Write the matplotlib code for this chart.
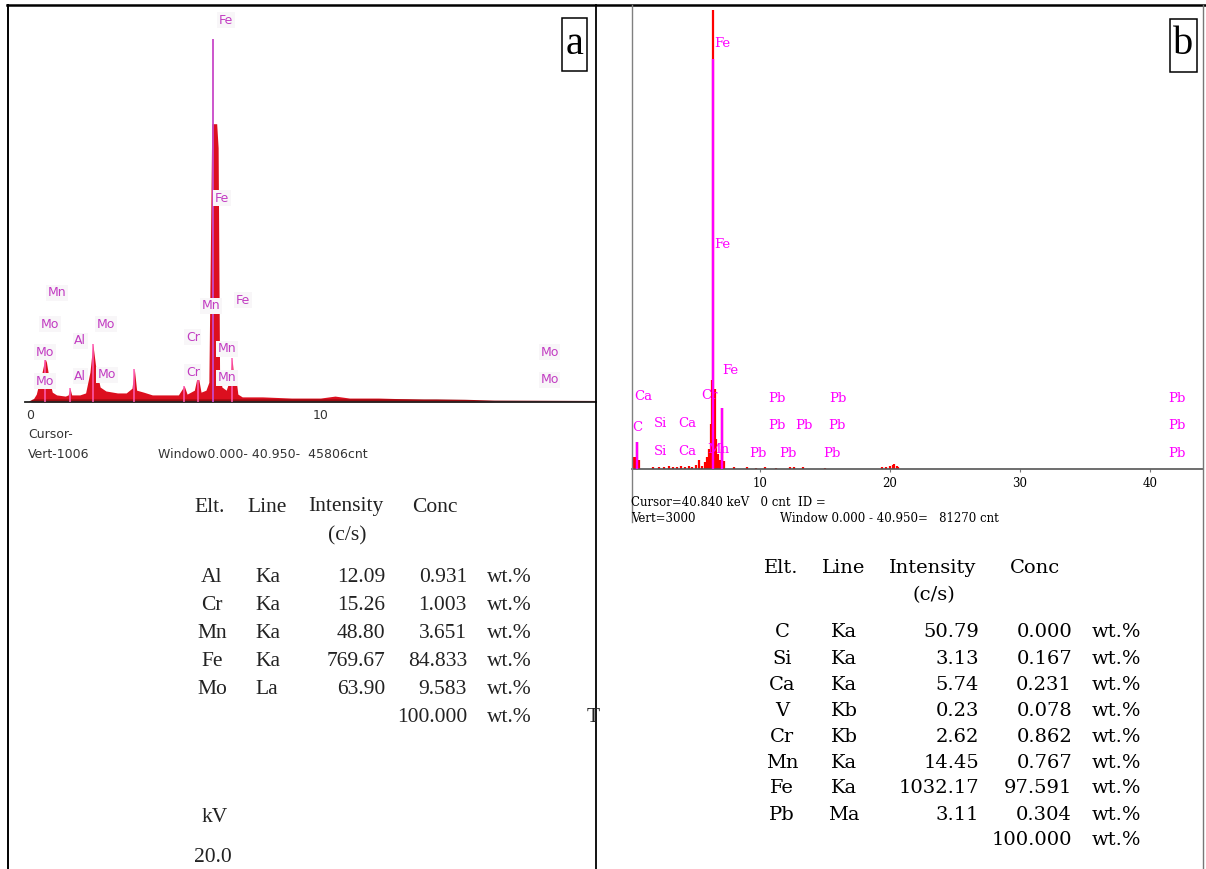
import matplotlib
matplotlib.use("Agg")
import matplotlib.pyplot as plt
from matplotlib.lines import Line2D
from matplotlib.patches import Rectangle

W, H = 1206, 869

# ---- spectrum a (keV, counts)
energy_a = [0.0, 0.1, 0.2, 0.3, 0.4, 0.5, 0.55, 0.65, 0.75, 0.9, 1.2, 1.3, 1.36, 1.42,
            1.7, 1.9, 2.05, 2.15, 2.25, 2.4, 2.6, 3.0, 3.3, 3.5, 3.58, 3.66, 3.9, 4.2,
            4.6, 5.1, 5.3, 5.4, 5.65, 5.77, 5.88, 6.05, 6.15, 6.2, 6.25, 6.42, 6.47,
            6.52, 6.6, 6.75, 6.88, 6.95, 7.02, 7.07, 7.15, 7.3, 8.0, 9.0, 10.0, 10.5,
            11.0, 12.0, 13.0, 14.0, 15.0, 16.0, 19.5]
counts_a = [0, 8, 20, 50, 76, 111, 101, 56, 25, 18, 15, 18, 35, 18,
            18, 23, 76, 147, 89, 38, 28, 23, 23, 35, 84, 30, 25, 18,
            18, 18, 41, 20, 30, 71, 25, 30, 50, 372, 707, 707, 646,
            76, 38, 30, 60, 111, 51, 68, 20, 13, 13, 10, 10, 15,
            10, 10, 8, 5, 3, 1, 0]
roi_a_energy = [0.5, 1.36, 2.15, 3.58, 5.3, 5.77, 6.95]
roi_a_counts = [111, 35, 147, 84, 41, 71, 111]
fe_a_energy = 6.3
fe_a_top = 922

peak_a_text = ['Fe', 'Fe', 'Mn', 'Fe', 'Mn', 'Mo', 'Mo', 'Al', 'Cr', 'Mo', 'Mn', 'Mo',
               'Al', 'Mo', 'Cr', 'Mo', 'Mn', 'Mo']
peak_a_energy = [6.74, 6.6, 0.91, 7.33, 6.22, 0.67, 2.6, 1.71, 5.6, 0.5, 6.78, 17.9,
                 1.71, 2.64, 5.6, 0.5, 6.78, 17.9]
peak_a_counts = [970, 518, 277, 259, 244, 198, 198, 155, 165, 127, 135, 127,
                 66, 69, 76, 53, 61, 56]

# ---- spectrum b
energy_b = [0.2, 0.27, 0.38, 0.56, 0.62, 0.72, 1.8, 2.2, 2.6, 3.0, 3.3, 3.6, 3.9, 4.2,
            4.5, 4.8, 5.1, 5.33, 5.55, 5.77, 5.95, 6.1, 6.2, 6.3, 6.4, 6.5, 6.6, 6.75,
            6.9, 7.05, 7.1, 7.25, 8.0, 9.0, 9.7, 10.4, 11.2, 12.3, 12.6, 13.3, 15.0,
            19.4, 19.7, 20.0, 20.2, 20.3, 20.5, 20.6]
counts_b = [80, 60, 80, 178, 40, 59, 12, 15, 10, 18, 12, 15, 20, 15,
            20, 15, 25, 59, 20, 48, 78, 130, 293, 580, 2990, 520, 195, 98,
            60, 397, 130, 52, 10, 12, 8, 10, 8, 12, 15, 10, 8,
            12, 15, 20, 28, 33, 20, 10]
roi_b_energy = [0.56, 6.4, 7.05]
roi_b_counts = [178, 2670, 397]

peak_b_text = ['Fe', 'Fe', 'Fe', 'Ca', 'Cr', 'Pb', 'Pb', 'Pb',
               'C', 'Si', 'Ca', 'Pb', 'Pb', 'Pb', 'Pb',
               'Si', 'Ca', 'Mn', 'Pb', 'Pb', 'Pb', 'Pb']
peak_b_energy = [7.08, 7.08, 7.69, 1.0, 6.08, 11.31, 16.0, 42.08,
                 0.54, 2.31, 4.38, 11.31, 13.38, 15.92, 42.08,
                 2.31, 4.38, 6.77, 9.85, 12.15, 15.54, 42.08]
peak_b_counts = [2772, 1464, 644, 475, 481, 456, 456, 456,
                 273, 293, 293, 286, 286, 286, 286,
                 117, 117, 130, 104, 104, 104, 104]

# ---- tables
elt_a = ['Al', 'Cr', 'Mn', 'Fe', 'Mo']
line_a = ['Ka', 'Ka', 'Ka', 'Ka', 'La']
intensity_a = ['12.09', '15.26', '48.80', '769.67', '63.90']
conc_a = ['0.931', '1.003', '3.651', '84.833', '9.583']

elt_b = ['C', 'Si', 'Ca', 'V', 'Cr', 'Mn', 'Fe', 'Pb']
line_b = ['Ka', 'Ka', 'Ka', 'Kb', 'Kb', 'Ka', 'Ka', 'Ma']
intensity_b = ['50.79', '3.13', '5.74', '0.23', '2.62', '14.45', '1032.17', '3.11']
conc_b = ['0.000', '0.167', '0.231', '0.078', '0.862', '0.767', '97.591', '0.304']
total = '100.000'


def fx(x):
    return x / W


def fy(y):
    return 1 - y / H


fig = plt.figure(figsize=(W / 100, H / 100), dpi=100)
fig.patch.set_facecolor('white')

# panel a spectrum
ax_a = fig.add_axes([fx(25), fy(402), (596 - 25) / W, (402 - 6) / H])
ax_a.fill_between(energy_a, counts_a, color='#dc0f1f', lw=0)
ax_a.plot(energy_a, [min(c, 4) for c in counts_a], color='#9a0a10', lw=1.5)
ax_a.vlines([fe_a_energy], 0, [fe_a_top], color='#c848c8', lw=1.3, zorder=3)
ax_a.vlines(roi_a_energy, 0, roi_a_counts, color='#ff5cb4', lw=1.1, zorder=3)
ax_a.set_xlim((25 - 30.5) / 29, (596 - 30.5) / 29)
ax_a.set_ylim(0, 1006)
for s in ['top', 'left', 'right']:
    ax_a.spines[s].set_visible(False)
ax_a.spines['bottom'].set_color('#222222')
ax_a.spines['bottom'].set_linewidth(1.3)
ax_a.set_yticks([])
ax_a.set_xticks([0, 10])
ax_a.set_xticklabels(['0', '10'], fontsize=9, color='#333333', family='DejaVu Sans')
ax_a.tick_params(axis='x', length=0, pad=5)
ax_a.patch.set_alpha(0)
for t, e, c in zip(peak_a_text, peak_a_energy, peak_a_counts):
    ax_a.text(e, c, t, ha='center', va='center', fontsize=9, color='#c23cc2',
              family='DejaVu Sans', zorder=4,
              bbox=dict(boxstyle='square,pad=0.12', fc='#f8f6f8', ec='none'))

fig.text(fx(28), fy(435), 'Cursor-', fontsize=9, color='#333333', va='center')
fig.text(fx(28), fy(454), 'Vert-1006', fontsize=9, color='#333333', va='center')
fig.text(fx(158), fy(454), 'Window0.000- 40.950-  45806cnt', fontsize=9,
         color='#333333', va='center')

# panel b spectrum
ax_b = fig.add_axes([fx(631.5), fy(469), (1203 - 631.5) / W, (469 - 8) / H])
ax_b.vlines(energy_b, 0, counts_b, color='#ff0000', lw=1.6)
ax_b.vlines(roi_b_energy, 0, roi_b_counts, color='#ff00ff', lw=1.7, zorder=3)
ax_b.set_xlim((631.5 - 630) / 13, (1203 - 630) / 13)
ax_b.set_ylim(0, 3000)
for s in ['top', 'left', 'right']:
    ax_b.spines[s].set_visible(False)
ax_b.spines['bottom'].set_color('#555555')
ax_b.spines['bottom'].set_linewidth(1.2)
ax_b.set_yticks([])
ax_b.set_xticks([10, 20, 30, 40])
ax_b.set_xticklabels(['10', '20', '30', '40'], fontsize=8.5, family='DejaVu Serif')
ax_b.tick_params(axis='x', length=2.5, width=0.8, color='#777777', pad=3)
ax_b.patch.set_alpha(0)
for t, e, c in zip(peak_b_text, peak_b_energy, peak_b_counts):
    ax_b.text(e, c, t, ha='center', va='center', fontsize=9.5, color='#ff00ff',
              family='DejaVu Serif', zorder=4)

fig.text(fx(631), fy(502), 'Cursor=40.840 keV   0 cnt  ID =', fontsize=8.5,
         family='DejaVu Serif', va='center')
fig.text(fx(631), fy(519), 'Vert=3000', fontsize=8.5, family='DejaVu Serif', va='center')
fig.text(fx(780), fy(519), 'Window 0.000 - 40.950=   81270 cnt', fontsize=8.5,
         family='DejaVu Serif', va='center')

# table a
fa = dict(fontsize=15.5, family='Liberation Serif', color='#222222', va='center')
fig.text(fx(210), fy(507), 'Elt.', ha='center', **fa)
fig.text(fx(267), fy(507), 'Line', ha='center', **fa)
fig.text(fx(346), fy(507), 'Intensity', ha='center', **fa)
fig.text(fx(435), fy(507), 'Conc', ha='center', **fa)
fig.text(fx(347), fy(536), '(c/s)', ha='center', **fa)
rows_a = [577, 605.5, 633.5, 661.5, 689.5]
for i, y in enumerate(rows_a):
    fig.text(fx(212), fy(y), elt_a[i], ha='center', **fa)
    fig.text(fx(255), fy(y), line_a[i], ha='left', **fa)
    fig.text(fx(385), fy(y), intensity_a[i], ha='right', **fa)
    fig.text(fx(467), fy(y), conc_a[i], ha='right', **fa)
    fig.text(fx(487), fy(y), 'wt.%', ha='left', **fa)
fig.text(fx(467), fy(717), total, ha='right', **fa)
fig.text(fx(487), fy(717), 'wt.%', ha='left', **fa)
fig.text(fx(587), fy(717), 'T', ha='left', **fa)
fig.text(fx(215), fy(817), 'kV', ha='center', **fa)
fig.text(fx(213), fy(858), '20.0', ha='center', **fa)

# table b
fb = dict(fontsize=14, family='DejaVu Serif', color='black', va='center')
fig.text(fx(781), fy(568), 'Elt.', ha='center', **fb)
fig.text(fx(844), fy(568), 'Line', ha='center', **fb)
fig.text(fx(933), fy(568), 'Intensity', ha='center', **fb)
fig.text(fx(1035), fy(568), 'Conc', ha='center', **fb)
fig.text(fx(934), fy(595), '(c/s)', ha='center', **fb)
rows_b = [632, 659, 685, 711, 737, 763, 788, 815]
for i, y in enumerate(rows_b):
    fig.text(fx(782), fy(y), elt_b[i], ha='center', **fb)
    fig.text(fx(844), fy(y), line_b[i], ha='center', **fb)
    fig.text(fx(979), fy(y), intensity_b[i], ha='right', **fb)
    fig.text(fx(1072), fy(y), conc_b[i], ha='right', **fb)
    fig.text(fx(1092), fy(y), 'wt.%', ha='left', **fb)
fig.text(fx(1072), fy(840), total, ha='right', **fb)
fig.text(fx(1092), fy(840), 'wt.%', ha='left', **fb)

# panel letters
fig.add_artist(Rectangle((fx(562), fy(71)), 25 / W, 53 / H, transform=fig.transFigure,
                         fill=False, ec='black', lw=1.1))
fig.text(fx(574.5), fy(44), 'a', ha='center', va='center', fontsize=29,
         family='Liberation Serif')
fig.add_artist(Rectangle((fx(1170), fy(72)), 27 / W, 53 / H, transform=fig.transFigure,
                         fill=False, ec='black', lw=1.1))
fig.text(fx(1183.5), fy(45), 'b', ha='center', va='center', fontsize=29,
         family='Liberation Serif')

# frame lines
fig.add_artist(Line2D([fx(7), fx(1206)], [fy(5), fy(5)], color='black', lw=1.8))
fig.add_artist(Line2D([fx(7.5), fx(7.5)], [fy(5), fy(869)], color='black', lw=1.4))
fig.add_artist(Line2D([fx(596), fx(596)], [fy(5), fy(869)], color='black', lw=1.3))
fig.add_artist(Line2D([fx(1203), fx(1203)], [fy(5), fy(869)], color='#777777', lw=1.0))
fig.add_artist(Line2D([fx(631.5), fx(631.5)], [fy(5), fy(522)], color='#808080', lw=1.0))

fig.savefig('out.png', dpi=100)
